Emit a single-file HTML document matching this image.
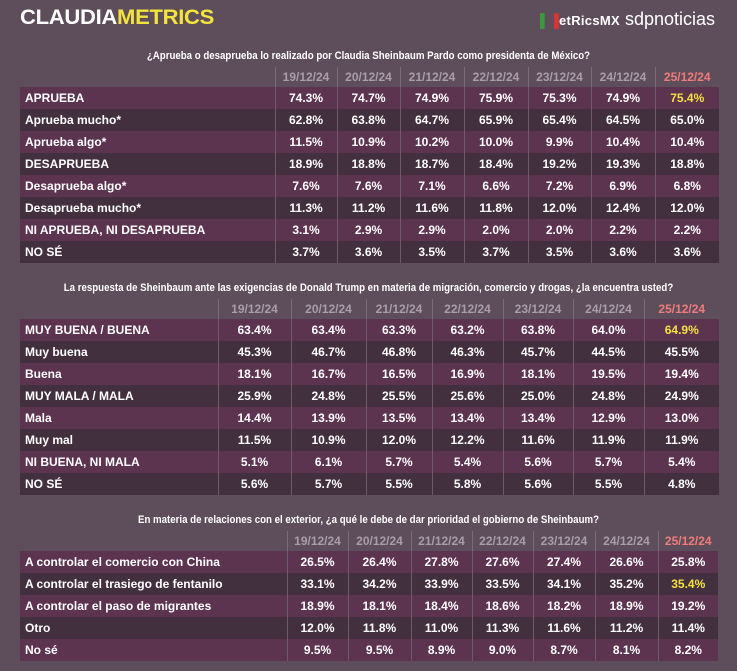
<!DOCTYPE html>
<html><head><meta charset="utf-8"><style>
body{margin:0;width:737px;height:671px;background:#5e4e5b;font-family:"Liberation Sans",Arial,sans-serif;position:relative;overflow:hidden}
.logo{position:absolute;left:20px;top:6px;font-size:21px;font-weight:bold;color:#fff;letter-spacing:-0.3px;transform:scaleX(1.05);transform-origin:left}
.logo span{color:#f3e43a}
.mx{position:absolute;left:540px;top:13px;font-size:13px;font-weight:bold;color:#fff;letter-spacing:0.3px}
.sdp{position:absolute;left:625px;top:9px;font-size:18px;color:#fff}
.t{position:absolute;color:#fff;font-size:11px;font-weight:bold;text-align:center;width:737px;left:0;transform:scaleX(0.88)}
table{position:absolute;border-collapse:collapse;left:20px}
td{height:22px;padding:0;font-size:12px;font-weight:bold;color:#fff;text-align:center}
td:first-child{text-align:left;padding-left:5px}
tr.h td{color:#a99da7;height:20px;border-left:1px solid #7a6b77}
tr.h td:first-child{border:none}
tr.a td{background:#5d3450}
tr.b td{background:#42303e}
tr.b td,tr.a td{border-left:1px solid #6e5a6a}
tr.b td:first-child,tr.a td:first-child{border-left:none}
.r{color:#f07b7b!important}.y{color:#f5e03c!important}
</style></head><body>
<div class="logo">CLAUDIA<span>METRICS</span></div>
<div class="mx"><span style="color:#3a9a3a">▌</span><span style="color:#d33">▐</span>etRicsMX</div>
<div class="sdp">sdpnoticias</div>

<div class="t" style="top:50px">¿Aprueba o desaprueba lo realizado por Claudia Sheinbaum Pardo como presidenta de México?</div>
<table style="top:67px;width:699px">
<colgroup><col style="width:255px"><col style="width:62px"><col style="width:63px"><col style="width:64px"><col style="width:64px"><col style="width:63px"><col style="width:64px"><col style="width:64px"></colgroup>
<tr class="h"><td></td><td>19/12/24</td><td>20/12/24</td><td>21/12/24</td><td>22/12/24</td><td>23/12/24</td><td>24/12/24</td><td class="r">25/12/24</td></tr>
<tr class="a"><td>APRUEBA</td><td>74.3%</td><td>74.7%</td><td>74.9%</td><td>75.9%</td><td>75.3%</td><td>74.9%</td><td class="y">75.4%</td></tr>
<tr class="b"><td>Aprueba mucho*</td><td>62.8%</td><td>63.8%</td><td>64.7%</td><td>65.9%</td><td>65.4%</td><td>64.5%</td><td>65.0%</td></tr>
<tr class="a"><td>Aprueba algo*</td><td>11.5%</td><td>10.9%</td><td>10.2%</td><td>10.0%</td><td>9.9%</td><td>10.4%</td><td>10.4%</td></tr>
<tr class="b"><td>DESAPRUEBA</td><td>18.9%</td><td>18.8%</td><td>18.7%</td><td>18.4%</td><td>19.2%</td><td>19.3%</td><td>18.8%</td></tr>
<tr class="a"><td>Desaprueba algo*</td><td>7.6%</td><td>7.6%</td><td>7.1%</td><td>6.6%</td><td>7.2%</td><td>6.9%</td><td>6.8%</td></tr>
<tr class="b"><td>Desaprueba mucho*</td><td>11.3%</td><td>11.2%</td><td>11.6%</td><td>11.8%</td><td>12.0%</td><td>12.4%</td><td>12.0%</td></tr>
<tr class="a"><td>NI APRUEBA, NI DESAPRUEBA</td><td>3.1%</td><td>2.9%</td><td>2.9%</td><td>2.0%</td><td>2.0%</td><td>2.2%</td><td>2.2%</td></tr>
<tr class="b"><td>NO SÉ</td><td>3.7%</td><td>3.6%</td><td>3.5%</td><td>3.7%</td><td>3.5%</td><td>3.6%</td><td>3.6%</td></tr>
</table>

<div class="t" style="top:282px">La respuesta de Sheinbaum ante las exigencias de Donald Trump en materia de migración, comercio y drogas, ¿la encuentra usted?</div>
<table style="top:299px;width:699px">
<colgroup><col style="width:198px"><col style="width:73px"><col style="width:75px"><col style="width:66px"><col style="width:71px"><col style="width:70px"><col style="width:71px"><col style="width:75px"></colgroup>
<tr class="h"><td></td><td>19/12/24</td><td>20/12/24</td><td>21/12/24</td><td>22/12/24</td><td>23/12/24</td><td>24/12/24</td><td class="r">25/12/24</td></tr>
<tr class="a"><td>MUY BUENA / BUENA</td><td>63.4%</td><td>63.4%</td><td>63.3%</td><td>63.2%</td><td>63.8%</td><td>64.0%</td><td class="y">64.9%</td></tr>
<tr class="b"><td>Muy buena</td><td>45.3%</td><td>46.7%</td><td>46.8%</td><td>46.3%</td><td>45.7%</td><td>44.5%</td><td>45.5%</td></tr>
<tr class="a"><td>Buena</td><td>18.1%</td><td>16.7%</td><td>16.5%</td><td>16.9%</td><td>18.1%</td><td>19.5%</td><td>19.4%</td></tr>
<tr class="b"><td>MUY MALA / MALA</td><td>25.9%</td><td>24.8%</td><td>25.5%</td><td>25.6%</td><td>25.0%</td><td>24.8%</td><td>24.9%</td></tr>
<tr class="a"><td>Mala</td><td>14.4%</td><td>13.9%</td><td>13.5%</td><td>13.4%</td><td>13.4%</td><td>12.9%</td><td>13.0%</td></tr>
<tr class="b"><td>Muy mal</td><td>11.5%</td><td>10.9%</td><td>12.0%</td><td>12.2%</td><td>11.6%</td><td>11.9%</td><td>11.9%</td></tr>
<tr class="a"><td>NI BUENA, NI MALA</td><td>5.1%</td><td>6.1%</td><td>5.7%</td><td>5.4%</td><td>5.6%</td><td>5.7%</td><td>5.4%</td></tr>
<tr class="b"><td>NO SÉ</td><td>5.6%</td><td>5.7%</td><td>5.5%</td><td>5.8%</td><td>5.6%</td><td>5.5%</td><td>4.8%</td></tr>
</table>

<div class="t" style="top:514px">En materia de relaciones con el exterior, ¿a qué le debe de dar prioridad el gobierno de Sheinbaum?</div>
<table style="top:531px;width:698px">
<colgroup><col style="width:267px"><col style="width:61px"><col style="width:63px"><col style="width:61px"><col style="width:61px"><col style="width:62px"><col style="width:63px"><col style="width:60px"></colgroup>
<tr class="h"><td></td><td>19/12/24</td><td>20/12/24</td><td>21/12/24</td><td>22/12/24</td><td>23/12/24</td><td>24/12/24</td><td class="r">25/12/24</td></tr>
<tr class="a"><td>A controlar el comercio con China</td><td>26.5%</td><td>26.4%</td><td>27.8%</td><td>27.6%</td><td>27.4%</td><td>26.6%</td><td>25.8%</td></tr>
<tr class="b"><td>A controlar el trasiego de fentanilo</td><td>33.1%</td><td>34.2%</td><td>33.9%</td><td>33.5%</td><td>34.1%</td><td>35.2%</td><td class="y">35.4%</td></tr>
<tr class="a"><td>A controlar el paso de migrantes</td><td>18.9%</td><td>18.1%</td><td>18.4%</td><td>18.6%</td><td>18.2%</td><td>18.9%</td><td>19.2%</td></tr>
<tr class="b"><td>Otro</td><td>12.0%</td><td>11.8%</td><td>11.0%</td><td>11.3%</td><td>11.6%</td><td>11.2%</td><td>11.4%</td></tr>
<tr class="a"><td>No sé</td><td>9.5%</td><td>9.5%</td><td>8.9%</td><td>9.0%</td><td>8.7%</td><td>8.1%</td><td>8.2%</td></tr>
</table>
</body></html>
